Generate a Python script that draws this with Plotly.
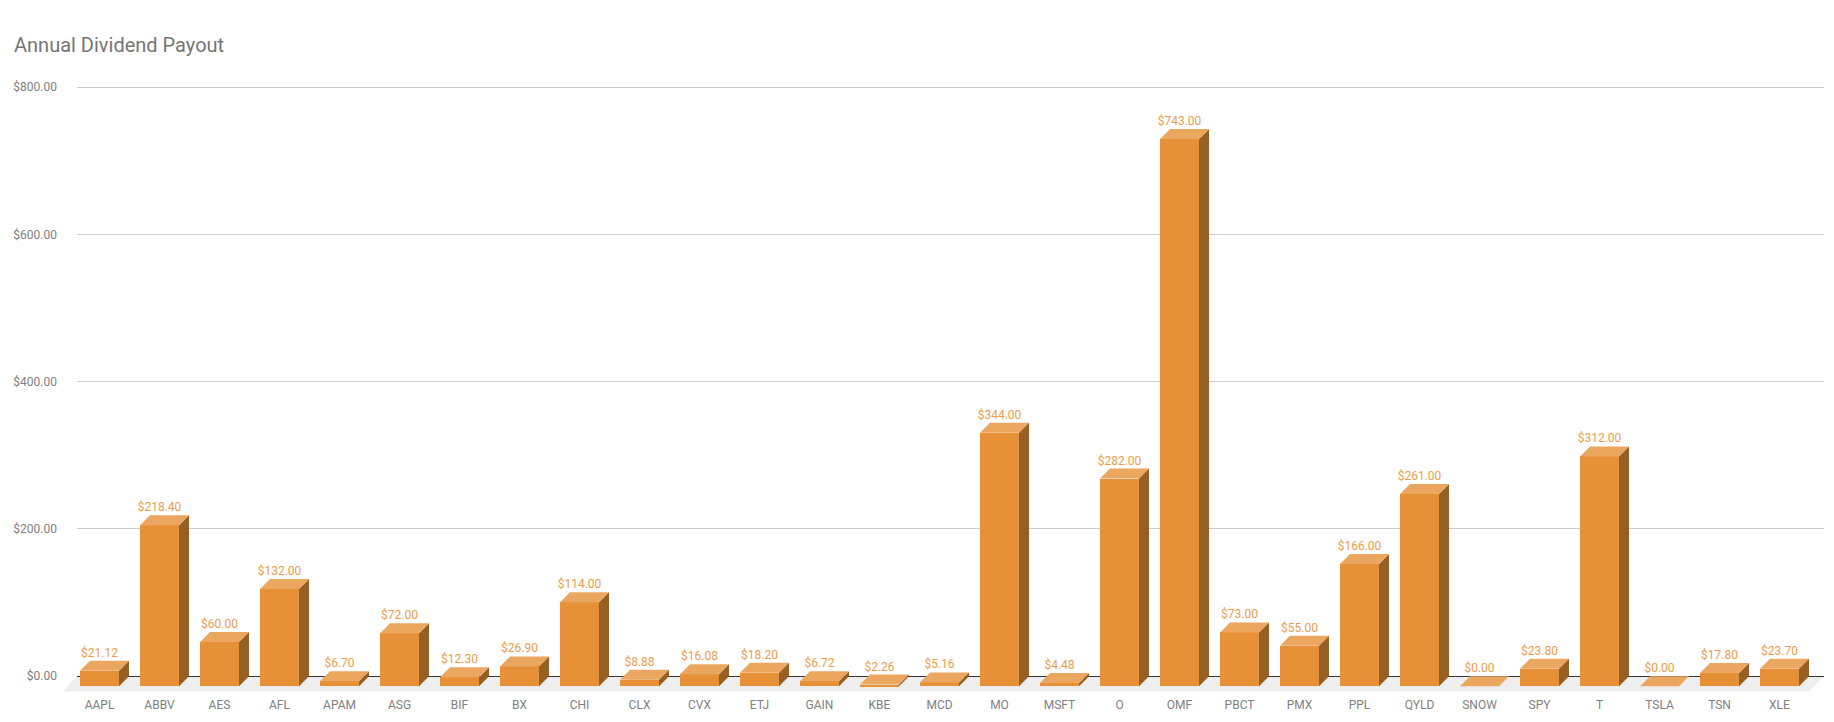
import plotly.graph_objects as go

title = "Annual Dividend Payout"
tickers = ["AAPL","ABBV","AES","AFL","APAM","ASG","BIF","BX","CHI","CLX","CVX","ETJ","GAIN","KBE","MCD",
           "MO","MSFT","O","OMF","PBCT","PMX","PPL","QYLD","SNOW","SPY","T","TSLA","TSN","XLE"]
payout = [21.12,218.40,60.00,132.00,6.70,72.00,12.30,26.90,114.00,8.88,16.08,18.20,6.72,2.26,5.16,
          344.00,4.48,282.00,743.00,73.00,55.00,166.00,261.00,0.00,23.80,312.00,0.00,17.80,23.70]
y_ticks = [0, 200, 400, 600, 800]

W, H = 1834, 722
LEFT, RIGHT, TOP, BOTTOM = 77, 1824, 85, 692
Y800_PAD_PX = 2.0
PX_PER_UNIT = 0.7365
PITCH = 60.0
FIRST_CENTER = 99.5
BAR_PX = 39.0
DEPTH_PX = 10.0
FLOOR_PX = 15.4
FLOOR_LEFT = 63.0
FLOOR_RIGHT = 1809.0
LABEL_LIFT_PX = 1.0

FRONT, SIDE, CAP = "#e69138", "#965f24", "#eba660"
LABEL = "#ed9c4c"
GREY = "#757575"
TICK_GREY = "#808080"
FONT = "Roboto"

dx = DEPTH_PX / PITCH
dy = DEPTH_PX / PX_PER_UNIT
half = BAR_PX / PITCH / 2
xs = list(range(len(tickers)))

side_x, side_y, cap_x, cap_y = [], [], [], []
for x, v in zip(xs, payout):
    r = x + half
    l = x - half
    if v > 0:
        side_x += [r, r + dx, r + dx, r, r, None]
        side_y += [-dy, 0, v, v - dy, -dy, None]
    cap_x += [l, r, r + dx, l + dx, l, None]
    cap_y += [v - dy, v - dy, v, v, v - dy, None]

fig = go.Figure()
fig.add_bar(x=xs, y=payout, base=[-dy] * len(xs), width=BAR_PX / PITCH,
            marker=dict(color=FRONT, line=dict(width=0)), name="Front", showlegend=False)
fig.add_scatter(x=side_x, y=side_y, mode="lines", fill="toself", fillcolor=SIDE,
                line=dict(width=0, color=SIDE), hoverinfo="skip", showlegend=False)
fig.add_scatter(x=cap_x, y=cap_y, mode="lines", fill="toself", fillcolor=CAP,
                line=dict(width=0, color=CAP), hoverinfo="skip", showlegend=False)
lift = LABEL_LIFT_PX / PX_PER_UNIT
fig.add_scatter(x=xs, y=[v + lift for v in payout], mode="text", text=[f"${v:,.2f}" for v in payout],
                textposition="top center", textfont=dict(family=FONT, size=12, color=LABEL),
                cliponaxis=False, hoverinfo="skip", showlegend=False)

pw = RIGHT - LEFT
floor_bottom = -FLOOR_PX / PX_PER_UNIT
px = lambda p: (p - LEFT) / pw
fig.add_shape(type="path", xref="paper", yref="y", layer="below", line=dict(width=0), fillcolor="#eeeeee",
              path=f"M {px(LEFT)} 0 L {px(RIGHT)} 0 L {px(FLOOR_RIGHT)} {floor_bottom} L {px(FLOOR_LEFT)} {floor_bottom} Z")

ph = BOTTOM - TOP
y_top = 800 + Y800_PAD_PX / PX_PER_UNIT
fig.update_layout(
    width=W, height=H, autosize=False,
    margin=dict(l=LEFT, r=W - RIGHT, t=TOP, b=H - BOTTOM, pad=0),
    paper_bgcolor="white", plot_bgcolor="white",
    title=dict(text=title, x=14 / W, xanchor="left", y=1 - 45 / H, yanchor="middle",
               font=dict(family=FONT, size=20, color=GREY)),
    bargap=0, showlegend=False,
    font=dict(family=FONT, size=12, color=TICK_GREY),
    xaxis=dict(range=[(LEFT - FIRST_CENTER) / PITCH, (RIGHT - FIRST_CENTER) / PITCH], tickmode="array",
               tickvals=xs, ticktext=tickers, showgrid=False, zeroline=False, showline=False, ticks="",
               tickangle=0, ticklabelstandoff=4, tickfont=dict(family=FONT, size=12, color=TICK_GREY),
               automargin=False, fixedrange=True),
    yaxis=dict(range=[y_top - ph / PX_PER_UNIT, y_top], tickmode="array", tickvals=y_ticks,
               ticktext=[f"${t:,.2f}" for t in y_ticks], showgrid=True, gridcolor="#cccccc", gridwidth=1,
               zeroline=True, zerolinecolor="#333333", zerolinewidth=1, showline=False, ticks="",
               ticklabelstandoff=19, tickfont=dict(family=FONT, size=12, color=TICK_GREY),
               automargin=False, fixedrange=True),
)
fig.write_html("out.html", post_script="document.body.style.margin='0';document.body.style.overflow='hidden';",
               config={"displayModeBar": False})
